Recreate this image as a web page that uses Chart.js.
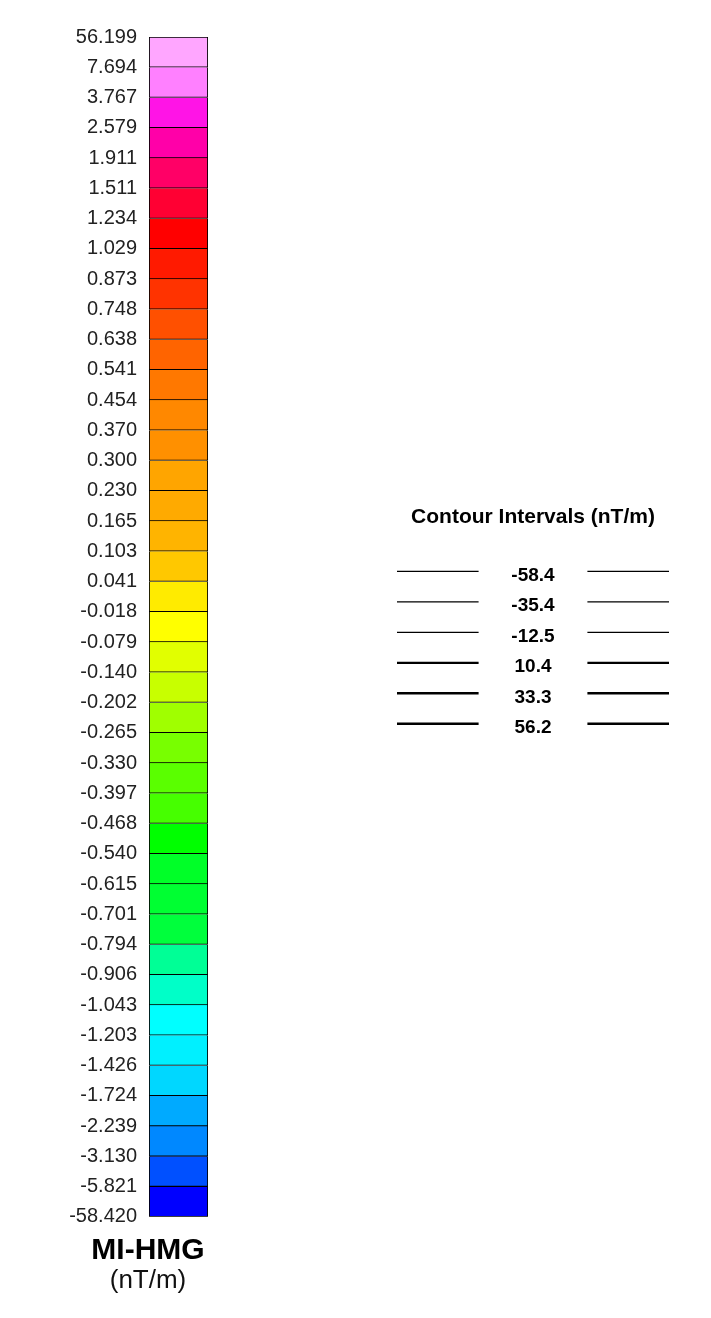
<!DOCTYPE html>
<html>
<head>
<meta charset="utf-8">
<script src="https://cdn.jsdelivr.net/npm/chart.js@4.4.1/dist/chart.umd.min.js"></script>
<style>
html, body { margin: 0; padding: 0; background: #fff; }
body { width: 711px; height: 1318px; position: relative; overflow: hidden; }
#scaleBox { position: absolute; left: 0; top: 0; width: 296px; height: 1318px; }
#contourBox { position: absolute; left: 388px; top: 495px; width: 290px; height: 250px; }
</style>
</head>
<body>
<div id="scaleBox"><canvas id="scaleChart"></canvas></div>
<div id="contourBox"><canvas id="contourChart"></canvas></div>
<script>
// colour bar boundaries, top to bottom (nT/m)
const scaleLabels = ['56.199', '7.694', '3.767', '2.579', '1.911', '1.511', '1.234', '1.029',
    '0.873', '0.748', '0.638', '0.541', '0.454', '0.370', '0.300', '0.230', '0.165', '0.103',
    '0.041', '-0.018', '-0.079', '-0.140', '-0.202', '-0.265', '-0.330', '-0.397', '-0.468',
    '-0.540', '-0.615', '-0.701', '-0.794', '-0.906', '-1.043', '-1.203', '-1.426', '-1.724',
    '-2.239', '-3.130', '-5.821', '-58.420'];

// one colour per band, top to bottom
const bandColors = ['#ffa6ff', '#ff80ff', '#ff14e6', '#ff00a8', '#ff0066', '#ff0033', '#ff0000',
    '#ff1a00', '#ff3300', '#ff5000', '#ff6400', '#ff7800', '#ff8800', '#ff9000', '#ffa500',
    '#ffaa00', '#ffb400', '#ffc800', '#ffeb00', '#ffff00', '#e1ff00', '#c8ff00', '#a0ff00',
    '#78ff00', '#5aff00', '#46ff00', '#00ff00', '#00ff28', '#00ff32', '#00ff3c', '#00ff96',
    '#00ffc8', '#00ffff', '#00f0ff', '#00d7ff', '#00aaff', '#0088ff', '#0050ff', '#0000ff'];

const bandSizes = bandColors.map(() => 1);

// contour legend levels
const contourLevels = [-58.4, -35.4, -12.5, 10.4, 33.3, 56.2];

const FONT = '"Liberation Sans", Arial, sans-serif';

function renderScale() {
    const datasets = bandColors.map((c, i) => ({
        data: [bandSizes[i]],
        backgroundColor: c,
        borderColor: '#000',
        borderWidth: 1.2,
        borderSkipped: i === 0 ? false : 'start',
        barPercentage: 1,
        categoryPercentage: 1
    }));

    new Chart(document.getElementById('scaleChart'), {
        type: 'bar',
        data: { labels: ['MI-HMG'], datasets: datasets },
        options: {
            responsive: true,
            maintainAspectRatio: false,
            animation: false,
            layout: { padding: { top: 37, bottom: 0, left: 0, right: 0 } },
            scales: {
                x: { stacked: true, display: false },
                y: {
                    stacked: true,
                    reverse: true,
                    min: 0,
                    max: 39,
                    afterFit: s => { s.width = 149; },
                    grid: { display: false, drawTicks: false },
                    border: { display: false },
                    ticks: {
                        stepSize: 1,
                        autoSkip: false,
                        padding: 12,
                        color: '#222',
                        font: { family: FONT, size: 20 },
                        callback: v => scaleLabels[Math.round(v)]
                    }
                },
                yr: {
                    position: 'right',
                    afterFit: s => { s.width = 88; },
                    grid: { display: false, drawTicks: false },
                    border: { display: false },
                    ticks: { display: false }
                }
            },
            plugins: {
                legend: { display: false },
                tooltip: { enabled: false },
                subtitle: {
                    display: true,
                    position: 'bottom',
                    text: 'MI-HMG',
                    color: '#000',
                    font: { family: FONT, size: 30, weight: 'bold' },
                    padding: { top: 16, bottom: -4 }
                },
                title: {
                    display: true,
                    position: 'bottom',
                    text: '(nT/m)',
                    color: '#111',
                    font: { family: FONT, size: 26, weight: 'normal' },
                    padding: { top: 0, bottom: 22 }
                }
            }
        }
    });
}

function renderContours() {
    const levelLabels = {
        id: 'levelLabels',
        afterDatasetsDraw(chart) {
            const { ctx, scales: { x, y } } = chart;
            ctx.save();
            ctx.font = 'bold 19px ' + FONT;
            ctx.fillStyle = '#000';
            ctx.textAlign = 'center';
            ctx.textBaseline = 'middle';
            contourLevels.forEach((v, i) => {
                ctx.fillText(v.toFixed(1), x.getPixelForValue(1.5), y.getPixelForValue(i) + 4);
            });
            ctx.restore();
        }
    };

    const datasets = contourLevels.map((v, i) => ({
        data: [{ x: 0, y: i }, { x: 0.9, y: i }, { x: 1.5, y: null }, { x: 2.1, y: i }, { x: 3, y: i }],
        showLine: true,
        spanGaps: false,
        borderColor: '#000',
        borderWidth: v < 0 ? 1.3 : 2.4,
        pointRadius: 0
    }));

    new Chart(document.getElementById('contourChart'), {
        type: 'scatter',
        data: { datasets: datasets },
        options: {
            responsive: true,
            maintainAspectRatio: false,
            animation: false,
            layout: { padding: { left: 9, right: 9, top: 0, bottom: 6 } },
            scales: {
                x: { type: 'linear', min: 0, max: 3, display: false },
                y: { type: 'linear', min: -0.5, max: 5.5, reverse: true, display: false }
            },
            plugins: {
                legend: { display: false },
                tooltip: { enabled: false },
                title: {
                    display: true,
                    text: 'Contour Intervals (nT/m)',
                    color: '#000',
                    font: { family: FONT, size: 21, weight: 'bold' },
                    padding: { top: 10, bottom: 26 }
                }
            }
        },
        plugins: [levelLabels]
    });
}

renderScale();
renderContours();
</script>
</body>
</html>
